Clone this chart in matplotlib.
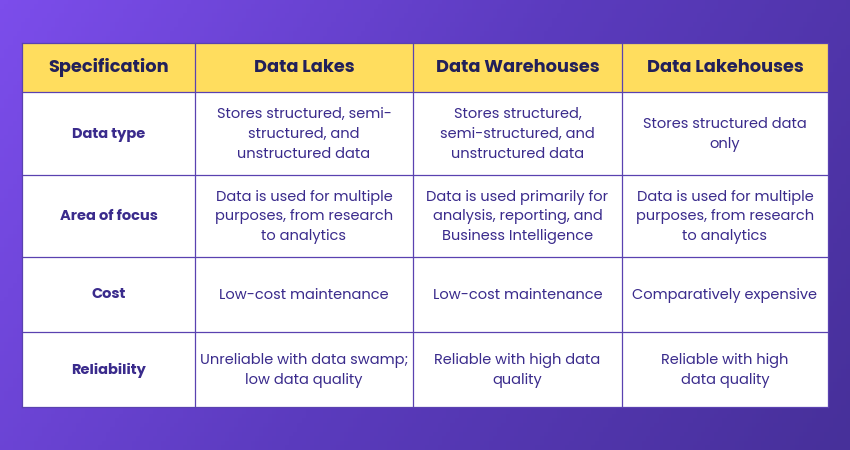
import numpy as np
import matplotlib
matplotlib.use("Agg")
import matplotlib.pyplot as plt
from matplotlib.patches import Rectangle
from matplotlib.colors import LinearSegmentedColormap

headers = ["Specification", "Data Lakes", "Data Warehouses", "Data Lakehouses"]
row_labels = ["Data type", "Area of focus", "Cost", "Reliability"]
cells = [
    ["Stores structured, semi-\nstructured, and\nunstructured data",
     "Stores structured,\nsemi-structured, and\nunstructured data",
     "Stores structured data\nonly"],
    ["Data is used for multiple\npurposes, from research\nto analytics",
     "Data is used primarily for\nanalysis, reporting, and\nBusiness Intelligence",
     "Data is used for multiple\npurposes, from research\nto analytics"],
    ["Low-cost maintenance", "Low-cost maintenance", "Comparatively expensive"],
    ["Unreliable with data swamp;\nlow data quality",
     "Reliable with high data\nquality",
     "Reliable with high\ndata quality"],
]

col_x = [22, 195, 413, 622, 828]
row_y = [43, 92, 175, 257, 332, 407]

fig = plt.figure(figsize=(8.5, 4.5), dpi=100)
ax = fig.add_axes([0, 0, 1, 1])
ax.set_xlim(0, 850); ax.set_ylim(450, 0); ax.axis("off")

xx, yy = np.meshgrid(np.linspace(0, 1, 200), np.linspace(0, 1, 100))
g = 0.75 * xx + 0.25 * yy
cmap = LinearSegmentedColormap.from_list("bg", ["#7C4DEB", "#5B3BBE", "#47309A"])
ax.imshow(g, extent=[0, 850, 450, 0], cmap=cmap, aspect="auto", zorder=0)

line_c = "#5A42B0"
txt_c = "#3A2B8C"
fam = ["Poppins", "Inter", "DejaVu Sans"]

ax.add_patch(Rectangle((col_x[0], row_y[0]), col_x[-1]-col_x[0], row_y[1]-row_y[0],
                       facecolor="#FFDD5E", edgecolor="none", zorder=1))
ax.add_patch(Rectangle((col_x[0], row_y[1]), col_x[-1]-col_x[0], row_y[-1]-row_y[1],
                       facecolor="white", edgecolor="none", zorder=1))
for x in col_x:
    ax.plot([x, x], [row_y[0], row_y[-1]], color=line_c, lw=0.9, zorder=2)
for y in row_y:
    ax.plot([col_x[0], col_x[-1]], [y, y], color=line_c, lw=0.9, zorder=2)

for j, h in enumerate(headers):
    ax.text((col_x[j]+col_x[j+1])/2, (row_y[0]+row_y[1])/2, h, ha="center", va="center",
            fontsize=12.8, fontweight="bold", color="#22205A", family=fam, zorder=3)
for i, lab in enumerate(row_labels):
    cy = (row_y[i+1]+row_y[i+2])/2
    ax.text((col_x[0]+col_x[1])/2, cy + 1, lab, ha="center", va="center", fontsize=10.5,
            fontweight="bold", color=txt_c, family=fam, zorder=3)
    for j, t in enumerate(cells[i]):
        ax.text((col_x[j+1]+col_x[j+2])/2, cy + 1, t, ha="center", va="center", fontsize=10.5,
                color=txt_c, family=fam, linespacing=1.45, zorder=3)

fig.savefig("out.png", dpi=100)
